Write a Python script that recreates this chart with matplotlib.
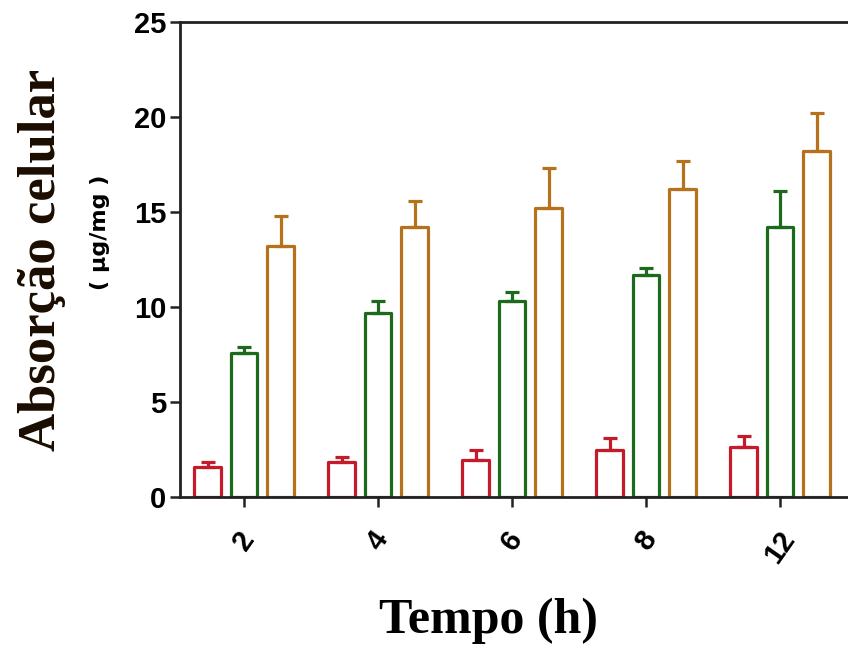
import numpy as np
import matplotlib
matplotlib.use('Agg')
import matplotlib.pyplot as plt

# values (ug/mg)
tempos = ['2', '4', '6', '8', '12']
serie_vermelha = [1.6, 1.85, 1.95, 2.5, 2.65]
erro_vermelha = [0.25, 0.25, 0.55, 0.6, 0.55]
serie_verde = [7.6, 9.7, 10.3, 11.7, 14.2]
erro_verde = [0.3, 0.6, 0.5, 0.35, 1.9]
serie_laranja = [13.2, 14.2, 15.2, 16.2, 18.2]
erro_laranja = [1.6, 1.4, 2.1, 1.5, 2.0]

cores = ['#c41a2a', '#1c6b1c', '#b5711c']

fig = plt.figure(figsize=(8.48, 6.55), dpi=100)
ax = fig.add_axes([0.2123, 0.2412, 0.7877, 0.7252])

x = np.arange(len(tempos))
width = 0.2
step = 0.272
series = [(serie_vermelha, erro_vermelha), (serie_verde, erro_verde), (serie_laranja, erro_laranja)]
for i, (vals, errs) in enumerate(series):
    pos = x + (i - 1) * step
    ax.bar(pos, vals, width, facecolor='white', edgecolor=cores[i], linewidth=2.3,
           joinstyle='round', zorder=2)
    ax.errorbar(pos, vals, yerr=[np.zeros(len(vals)), errs], fmt='none',
                ecolor=cores[i], elinewidth=2.3, capsize=5, capthick=2.3, zorder=3)

ax.set_xlim(-0.478, 4.507)
ax.set_ylim(0, 25)
ax.set_yticks([0, 5, 10, 15, 20, 25])
ax.set_xticks(x)
ax.set_xticklabels(tempos, rotation=55, ha='center', va='top')

for lbl in ax.get_yticklabels() + ax.get_xticklabels():
    lbl.set_fontfamily('Liberation Sans')
    lbl.set_fontweight('bold')
    lbl.set_fontsize(21)

ax.tick_params(axis='y', length=7, width=1.8, colors='#222222', pad=3, labelcolor='black')
ax.tick_params(axis='x', length=7, width=1.8, colors='#222222', pad=14, labelcolor='black')

for s in ['left', 'top', 'bottom']:
    ax.spines[s].set_linewidth(2.0)
    ax.spines[s].set_color('#222222')
ax.spines['right'].set_visible(False)

fig.text(0.05, 0.603, 'Absorção celular', rotation=90, ha='center', va='center',
         family='Liberation Serif', fontweight='bold', fontsize=38, color='#1a0d00')
fig.text(0.118, 0.646, '( μg/mg )', rotation=90, ha='center', va='center',
         family='DejaVu Sans', fontweight='bold', fontsize=16, color='black')
fig.text(0.5765, 0.052, 'Tempo (h)', ha='center', va='center',
         family='Liberation Serif', fontweight='bold', fontsize=36, color='black')

fig.savefig('out.png', dpi=100)
